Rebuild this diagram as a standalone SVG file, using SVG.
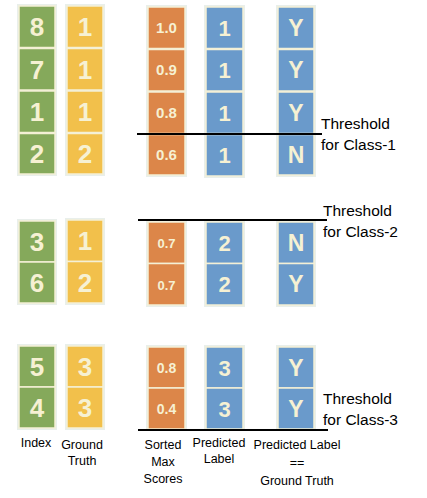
<svg xmlns="http://www.w3.org/2000/svg" width="427" height="498" viewBox="0 0 427 498">
<style>
.bg{fill:#e9efeb}
.cell{stroke:#f4f0d6;stroke-width:1.5}
.g{fill:#85a95b}.y{fill:#f2c04b}.o{fill:#dc8649}.b{fill:#6a9acb}
.t{font-family:"Liberation Sans",Arial,sans-serif;fill:#f6f1d3;text-anchor:middle;font-weight:bold}
.big{font-size:26px}.mid{font-size:22px}.yn{font-size:23px}.sc{font-size:15px}
.lab{font-family:"Liberation Sans",Arial,sans-serif;font-size:12.5px;fill:#000;text-anchor:middle}
.th{font-family:"Liberation Sans",Arial,sans-serif;font-size:15.5px;fill:#000}
.ln{stroke:#000;stroke-width:2}
</style>
<rect fill="#fff" width="427" height="498"/>
<g id="section1">
 <g id="s1-index">
  <rect class="bg" x="17" y="4" width="40" height="172"/>
  <rect class="cell g" x="19" y="6" width="36" height="41.5"/><text class="t big" x="37" y="36">8</text>
  <rect class="cell g" x="19" y="48.5" width="36" height="41.5"/><text class="t big" x="37" y="79">7</text>
  <rect class="cell g" x="19" y="91" width="36" height="41.5"/><text class="t big" x="37" y="121">1</text>
  <rect class="cell g" x="19" y="133.5" width="36" height="40.5"/><text class="t big" x="37" y="163">2</text>
 </g>
 <g id="s1-truth">
  <rect class="bg" x="65" y="4" width="40" height="172"/>
  <rect class="cell y" x="67" y="6" width="36" height="41.5"/><text class="t big" x="85" y="36">1</text>
  <rect class="cell y" x="67" y="48.5" width="36" height="41.5"/><text class="t big" x="85" y="79">1</text>
  <rect class="cell y" x="67" y="91" width="36" height="41.5"/><text class="t big" x="85" y="121">1</text>
  <rect class="cell y" x="67" y="133.5" width="36" height="40.5"/><text class="t big" x="85" y="163">2</text>
 </g>
 <g id="s1-scores">
  <rect class="bg" x="146" y="5" width="41" height="172"/>
  <rect class="cell o" x="148" y="7" width="37" height="41.5"/><text class="t sc" x="166.5" y="33">1.0</text>
  <rect class="cell o" x="148" y="49.5" width="37" height="41.5"/><text class="t sc" x="166.5" y="75">0.9</text>
  <rect class="cell o" x="148" y="92" width="37" height="41.5"/><text class="t sc" x="166.5" y="118">0.8</text>
  <rect class="cell o" x="148" y="134.5" width="37" height="40.5"/><text class="t sc" x="166.5" y="160">0.6</text>
 </g>
 <g id="s1-pred">
  <rect class="bg" x="204" y="5" width="41" height="173"/>
  <rect class="cell b" x="206" y="7" width="37" height="41.5"/><text class="t mid" x="224.5" y="36">1</text>
  <rect class="cell b" x="206" y="49.5" width="37" height="41.5"/><text class="t mid" x="224.5" y="78">1</text>
  <rect class="cell b" x="206" y="92" width="37" height="41.5"/><text class="t mid" x="224.5" y="121">1</text>
  <rect class="cell b" x="206" y="134.5" width="37" height="41.5"/><text class="t mid" x="224.5" y="163">1</text>
 </g>
 <g id="s1-match">
  <rect class="bg" x="276" y="5" width="40" height="172"/>
  <rect class="cell b" x="278" y="7" width="36" height="41.5"/><text class="t yn" x="296" y="36">Y</text>
  <rect class="cell b" x="278" y="49.5" width="36" height="41.5"/><text class="t yn" x="296" y="78">Y</text>
  <rect class="cell b" x="278" y="92" width="36" height="41.5"/><text class="t yn" x="296" y="121">Y</text>
  <rect class="cell b" x="278" y="134.5" width="36" height="40.5"/><text class="t yn" x="296" y="163">N</text>
 </g>
</g>
<g id="section2">
 <g id="s2-index">
  <rect class="bg" x="17" y="219" width="40" height="86"/>
  <rect class="cell g" x="19" y="221" width="36" height="41"/><text class="t big" x="37" y="251">3</text>
  <rect class="cell g" x="19" y="262" width="36" height="41"/><text class="t big" x="37" y="292">6</text>
 </g>
 <g id="s2-truth">
  <rect class="bg" x="65" y="218" width="40" height="87"/>
  <rect class="cell y" x="67" y="220" width="36" height="41.5"/><text class="t big" x="85" y="250">1</text>
  <rect class="cell y" x="67" y="261.5" width="36" height="41.5"/><text class="t big" x="85" y="292">2</text>
 </g>
 <g id="s2-scores">
  <rect class="bg" x="146" y="220" width="41" height="87"/>
  <rect class="cell o" x="148" y="222" width="37" height="41.5"/><text class="t sc" x="166.5" y="248" style="font-size:13px">0.7</text>
  <rect class="cell o" x="148" y="263.5" width="37" height="41.5"/><text class="t sc" x="166.5" y="290" style="font-size:13px">0.7</text>
 </g>
 <g id="s2-pred">
  <rect class="bg" x="204" y="220" width="41" height="87"/>
  <rect class="cell b" x="206" y="222" width="37" height="41.5"/><text class="t mid" x="224.5" y="251">2</text>
  <rect class="cell b" x="206" y="263.5" width="37" height="41.5"/><text class="t mid" x="224.5" y="292">2</text>
 </g>
 <g id="s2-match">
  <rect class="bg" x="276" y="220" width="40" height="87"/>
  <rect class="cell b" x="278" y="222" width="36" height="41.5"/><text class="t yn" x="296" y="251">N</text>
  <rect class="cell b" x="278" y="263.5" width="36" height="41.5"/><text class="t yn" x="296" y="292">Y</text>
 </g>
</g>
<g id="section3">
 <g id="s3-index">
  <rect class="bg" x="17" y="344" width="40" height="86"/>
  <rect class="cell g" x="19" y="346" width="36" height="41"/><text class="t big" x="37" y="376">5</text>
  <rect class="cell g" x="19" y="387" width="36" height="41"/><text class="t big" x="37" y="417">4</text>
 </g>
 <g id="s3-truth">
  <rect class="bg" x="65" y="344" width="40" height="86"/>
  <rect class="cell y" x="67" y="346" width="36" height="41"/><text class="t big" x="85" y="376">3</text>
  <rect class="cell y" x="67" y="387" width="36" height="41"/><text class="t big" x="85" y="417">3</text>
 </g>
 <g id="s3-scores">
  <rect class="bg" x="146" y="345" width="41" height="86"/>
  <rect class="cell o" x="148" y="347" width="37" height="41"/><text class="t sc" x="166.5" y="373" style="font-size:14px">0.8</text>
  <rect class="cell o" x="148" y="388" width="37" height="41"/><text class="t sc" x="166.5" y="414" style="font-size:14px">0.4</text>
 </g>
 <g id="s3-pred">
  <rect class="bg" x="204" y="345" width="41" height="86"/>
  <rect class="cell b" x="206" y="347" width="37" height="41"/><text class="t mid" x="224.5" y="376">3</text>
  <rect class="cell b" x="206" y="388" width="37" height="41"/><text class="t mid" x="224.5" y="417">3</text>
 </g>
 <g id="s3-match">
  <rect class="bg" x="276" y="345" width="40" height="86"/>
  <rect class="cell b" x="278" y="347" width="36" height="41"/><text class="t yn" x="296" y="376">Y</text>
  <rect class="cell b" x="278" y="388" width="36" height="41"/><text class="t yn" x="296" y="417">Y</text>
 </g>
</g>
<g id="connectors">
 <line class="ln" x1="137" y1="134" x2="322" y2="134"/>
 <line class="ln" x1="138" y1="220" x2="327" y2="220"/>
 <line class="ln" x1="138" y1="430" x2="328" y2="430"/>
</g>
<g id="thresholds">
 <text class="th" x="321" y="129">Threshold</text>
 <text class="th" x="321" y="150">for Class-1</text>
 <text class="th" x="323" y="216">Threshold</text>
 <text class="th" x="323" y="237">for Class-2</text>
 <text class="th" x="323" y="404">Threshold</text>
 <text class="th" x="323" y="425">for Class-3</text>
</g>
<g id="labels">
 <text class="lab" x="36" y="447">Index</text>
 <text class="lab" x="82" y="449">Ground</text>
 <text class="lab" x="82" y="465">Truth</text>
 <text class="lab" x="163" y="449">Sorted</text>
 <text class="lab" x="163" y="466">Max</text>
 <text class="lab" x="163" y="483">Scores</text>
 <text class="lab" x="219" y="447">Predicted</text>
 <text class="lab" x="219" y="463">Label</text>
 <text class="lab" x="297" y="449">Predicted Label</text>
 <text class="lab" x="297" y="467">==</text>
 <text class="lab" x="297" y="485">Ground Truth</text>
</g>
</svg>
